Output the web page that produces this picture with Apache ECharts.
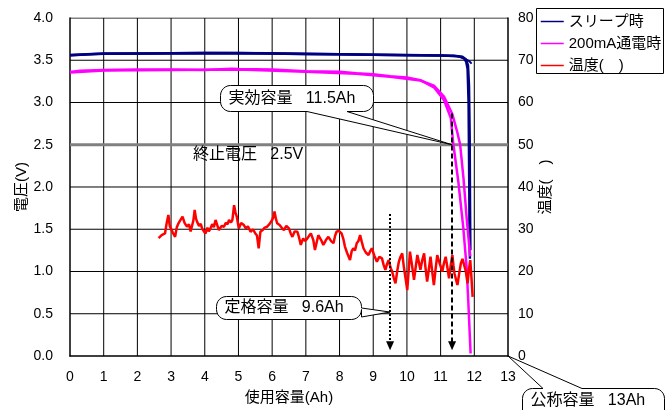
<!DOCTYPE html>
<html><head><meta charset="utf-8">
<script src="https://cdn.jsdelivr.net/npm/echarts@6/dist/echarts.min.js"></script>
<style>html,body{margin:0;padding:0;background:#fff}#c{width:668px;height:410px}</style>
</head><body><div id="c"></div><script>
const FONT = "'Liberation Sans', Arial, 'Noto Sans CJK JP', sans-serif";

// ---- data ----
const xTicks = [0,1,2,3,4,5,6,7,8,9,10,11,12,13];
const voltTicks = [0,0.5,1,1.5,2,2.5,3,3.5,4];
const seriesNames = ['スリープ時', '200mA通電時', '温度(　)'];
const cutoffVoltage = 2.5;
const sleepA = [[0,3.56],[0.5,3.57],[1,3.58],[2,3.58],[3,3.582],[4,3.585],[5,3.585],[6,3.58],[7,3.575],[8,3.57],[9,3.565],[10,3.56],[11,3.555],[11.4,3.55],[11.6,3.54],[11.7,3.52],[11.76,3.48],[11.8,3.4],[11.83,3.0],[11.85,2.0],[11.86,1.3],[11.87,1.15]];
const sleepB = [[0,3.555],[1,3.575],[3,3.578],[5,3.58],[7,3.572],[9,3.562],[11,3.552],[11.5,3.548],[11.65,3.53],[11.75,3.51],[11.85,3.49],[11.92,3.46]];
const sleepC = [[0,3.565],[1,3.58],[4,3.59],[6,3.585],[8,3.575],[10,3.565],[11.4,3.555],[11.65,3.545],[11.76,3.51],[11.82,3.44],[11.85,3.2],[11.87,2.6],[11.88,1.8],[11.89,1.25]];
const mag200A = [[0,3.36],[0.3,3.375],[1,3.385],[2,3.39],[3,3.39],[4,3.385],[4.8,3.4],[5,3.396],[6,3.39],[7,3.37],[8,3.365],[8.5,3.345],[9,3.335],[9.5,3.31],[10,3.295],[10.4,3.265],[10.8,3.18],[11.1,3.03],[11.3,2.82],[11.38,2.5],[11.53,2.05],[11.67,1.53],[11.77,1.06],[11.82,0.66],[11.86,0.3],[11.89,0.03]];
const mag200B = [[0,3.355],[1,3.38],[3,3.385],[5,3.39],[7,3.365],[8.5,3.34],[9.5,3.305],[10.4,3.26],[10.8,3.2],[11.1,3.07],[11.35,2.86],[11.5,2.64],[11.58,2.5],[11.68,2.1],[11.78,1.6],[11.85,1.3],[11.88,1.18]];
const temperature = [[2.63,27.9],[2.72,28.6],[2.82,29.0],[2.87,31.5],[2.92,33.4],[2.96,30.8],[2.99,30.6],[3.05,29.2],[3.12,28.2],[3.17,30.5],[3.22,31.4],[3.28,32.2],[3.34,33.0],[3.4,31.5],[3.47,30.6],[3.53,31.2],[3.58,29.5],[3.62,29.8],[3.66,32],[3.7,34.6],[3.74,32.5],[3.77,31.8],[3.83,30.8],[3.88,31.3],[3.92,30.2],[3.97,29.6],[4.02,29.0],[4.08,30.4],[4.12,29.5],[4.17,30.2],[4.22,31.2],[4.27,30.5],[4.32,32.2],[4.37,31],[4.42,29.8],[4.5,30.8],[4.57,30.6],[4.62,31.5],[4.68,31.2],[4.72,32.2],[4.78,31.6],[4.82,32.2],[4.87,35.7],[4.91,34],[4.95,33.0],[5.01,30.2],[5.08,31.5],[5.16,31.0],[5.22,30.2],[5.28,30.7],[5.36,29.4],[5.43,30],[5.5,29.0],[5.55,28.5],[5.6,25.5],[5.65,29.4],[5.72,29.8],[5.78,30.4],[5.85,30.6],[5.92,31.2],[6.0,32.2],[6.04,33],[6.07,34.2],[6.11,32.5],[6.15,31.4],[6.22,31],[6.28,30.4],[6.35,29.8],[6.42,30.8],[6.5,30.2],[6.55,29],[6.6,28.2],[6.67,29.5],[6.75,29.4],[6.8,28],[6.85,26.3],[6.92,27.8],[6.98,27.2],[7.05,27.9],[7.1,28.5],[7.15,29.0],[7.22,27.5],[7.27,25.1],[7.3,24.7],[7.37,28.6],[7.45,27.5],[7.52,26.3],[7.6,27.5],[7.67,28.2],[7.75,27.2],[7.82,26.7],[7.87,28.5],[7.91,29.4],[7.98,29.6],[8.06,29.0],[8.11,27.8],[8.16,25.9],[8.22,24.5],[8.31,22.7],[8.36,24.8],[8.41,25.5],[8.46,25],[8.51,26.7],[8.56,27.2],[8.61,28.6],[8.66,27],[8.71,25.5],[8.78,24.5],[8.86,23.9],[8.91,24.8],[8.96,25.5],[9.03,23.8],[9.11,22.3],[9.18,23.5],[9.26,23.1],[9.31,21.5],[9.36,20.4],[9.41,21.8],[9.46,22.7],[9.51,21],[9.56,20.0],[9.61,18.5],[9.66,17.2],[9.71,20],[9.76,22.3],[9.81,23.5],[9.86,24.3],[9.91,21],[9.96,18.4],[10.01,15.6],[10.05,20],[10.09,24.7],[10.15,21.5],[10.21,18.0],[10.26,21],[10.31,23.9],[10.36,22],[10.4,20.4],[10.45,22.5],[10.51,24.3],[10.55,21],[10.6,17.6],[10.65,20.5],[10.7,23.5],[10.75,20],[10.8,16.8],[10.85,20.5],[10.9,23.9],[10.97,22],[11.05,20.0],[11.1,22],[11.15,23.5],[11.2,21],[11.25,18.4],[11.3,21.5],[11.35,23.9],[11.38,21.5],[11.41,19.6],[11.46,18],[11.5,16.8],[11.55,19.5],[11.6,21.9],[11.65,23],[11.7,23.1],[11.75,20],[11.8,17.2],[11.84,20.5],[11.88,22.7],[11.92,18],[11.95,14]];
// annotation anchors (data units)
const ratedArrow = [[9.5,1.68],[9.5,0.12]];
const effectiveArrow = [[11.34,2.87],[11.34,0.12]];
const noteTexts = ['実効容量   11.5Ah', '定格容量   9.6Ah', '公称容量   13Ah', '終止電圧   2.5V'];
const noteTips = [[11.34,2.5],[9.5,0.52],[13,0]];

const chart = echarts.init(document.getElementById('c'), null, {renderer:'canvas'});
const lineS = (name, data, color, width, z, yIdx) => ({
  name, type:'line', data, yAxisIndex: yIdx||0, symbol:'none', showSymbol:false,
  lineStyle:{color, width}, itemStyle:{color}, z, silent:true, animation:false, sampling:null
});
const axisLbl = {color:'#000', fontSize:14, fontFamily:FONT};
const nameStyle = {color:'#000', fontSize:15, fontFamily:FONT};
const xMin = xTicks[0], xMax = xTicks[xTicks.length-1];
const vMin = voltTicks[0], vMax = voltTicks[voltTicks.length-1];
// grid lines drawn as thin line series through the axes
const gridSeries = xTicks.slice(1, -1).map(v => lineS('', [[v, vMin], [v, vMax]], '#000', 1, 0))
  .concat(voltTicks.slice(1).filter(v => v !== cutoffVoltage).map(v => lineS('', [[xMin, v], [xMax, v]], '#000', 1, 0)));
chart.setOption({
  animation:false,
  grid:{left:70, right:160, top:18, bottom:54},
  xAxis:{type:'value', min:xMin, max:xMax, interval:1, name:'使用容量(Ah)', nameLocation:'middle', nameGap:34, nameMoveOverlap:false,
    nameTextStyle:nameStyle,
    axisLine:{lineStyle:{color:'#000', width:1.5}}, axisTick:{show:false},
    axisLabel:Object.assign({margin:14}, axisLbl),
    splitLine:{show:false}},
  yAxis:[
    {type:'value', min:vMin, max:vMax, interval:0.5, name:'電圧(V)', nameLocation:'middle', nameGap:41, nameRotate:90, nameMoveOverlap:false,
     nameTextStyle:nameStyle,
     axisLine:{show:true, lineStyle:{color:'#000', width:1.5}}, axisTick:{show:false},
     axisLabel:Object.assign({margin:17, formatter:v=>v.toFixed(1)}, axisLbl),
     splitLine:{show:false}},
    {type:'value', min:0, max:80, interval:10, position:'right', name:'温度(　)', nameLocation:'middle', nameGap:30, nameRotate:90, nameMoveOverlap:false,
     nameTextStyle:nameStyle,
     axisLine:{show:true, lineStyle:{color:'#000', width:1.5}}, axisTick:{show:false},
     axisLabel:Object.assign({margin:10}, axisLbl),
     splitLine:{show:false}}
  ],
  legend:{data:seriesNames, orient:'vertical', left:540, top:14, itemGap:7, itemWidth:23, itemHeight:14, padding:0,
    textStyle:{color:'#000', fontSize:15, fontFamily:FONT}, lineStyle:{width:1.5}, itemStyle:{opacity:0}, selectedMode:false},
  series: gridSeries.concat([
    Object.assign(lineS('', [[xMin,cutoffVoltage],[xMax,cutoffVoltage]], '#808080', 3, 1), {
      markLine:{silent:true, symbol:['none','triangle'], symbolSize:[8,9], label:{show:false}, animation:false,
        data:[
          [{coord:ratedArrow[0], lineStyle:{color:'#000', width:2, type:[2,2]}}, {coord:ratedArrow[1]}],
          [{coord:effectiveArrow[0], lineStyle:{color:'#000', width:2, type:[5,3]}}, {coord:effectiveArrow[1]}]
        ], itemStyle:{color:'#000'}}
    }),
    lineS(seriesNames[0], sleepA, '#000080', 2.5, 3),
    lineS(seriesNames[0], sleepB, '#000080', 2, 3),
    lineS(seriesNames[0], sleepC, '#000080', 2, 3),
    lineS(seriesNames[1], mag200A, '#FF00FF', 2.5, 3),
    lineS(seriesNames[1], mag200B, '#FF00FF', 2.5, 3),
    lineS(seriesNames[2], temperature, '#FF0000', 2.5, 4, 1)
  ])
});

const px = (pt) => chart.convertToPixel({xAxisIndex:0, yAxisIndex:0}, pt);
function bubblePts(b, tip) {
  const {x,y,w,h,r,side,a1,a2} = b, pts = [];
  const arc = (cx, cy, a0, a1_) => { for (let i=0;i<=6;i++){ const t=(a0+(a1_-a0)*i/6)*Math.PI/180; pts.push([cx+r*Math.cos(t), cy+r*Math.sin(t)]); } };
  arc(x+r, y+r, 180, 270);
  if (side==='top') pts.push([a1,y], tip, [a2,y]);
  arc(x+w-r, y+r, 270, 360);
  if (side==='right') pts.push([x+w,a1], tip, [x+w,a2]);
  arc(x+w-r, y+h-r, 0, 90);
  if (side==='bottom') pts.push([a2,y+h], tip, [a1,y+h]);
  arc(x+r, y+h-r, 90, 180);
  return pts;
}
const boxes = [
  {x:220.5, y:85.5, w:153, h:26, r:10, side:'bottom', a1:307, a2:347},
  {x:216.5, y:296.5, w:145, h:23, r:10, side:'right', a1:308, a2:317},
  {x:522.5, y:388.5, w:142, h:32, r:10, side:'top', a1:543, a2:582}
];
const graphics = [
  {type:'rect', shape:{x:536.5, y:8.5, width:127, height:65}, style:{fill:'#fff', stroke:'#000', lineWidth:1}, z:0, silent:true}
];
boxes.forEach((b,i) => {
  const tip = px(noteTips[i]);
  graphics.push({type:'polygon', shape:{points:bubblePts(b, tip)}, style:{fill:'#fff', stroke:'#000', lineWidth:1}, z:20, silent:true});
  graphics.push({type:'text', x:b.x+8, y:b.y+ (i===2 ? 12 : b.h/2), style:{text:noteTexts[i], fill:'#000', fontSize:16, fontFamily:FONT, verticalAlign:'middle', align:'left'}, z:21, silent:true});
});
graphics.push({type:'text', x:193, y:155, style:{text:noteTexts[3], fill:'#000', fontSize:16, fontFamily:FONT, verticalAlign:'middle', align:'left'}, z:21, silent:true});
chart.setOption({graphic:graphics});
</script></body></html>
